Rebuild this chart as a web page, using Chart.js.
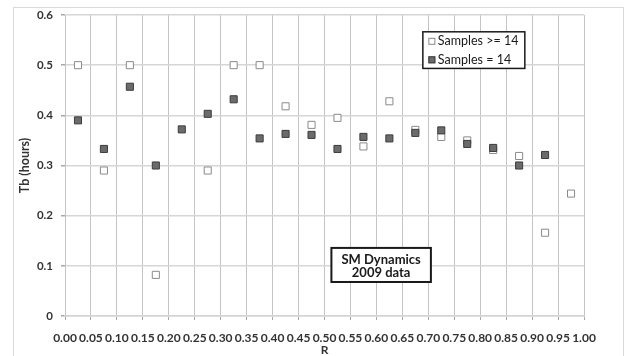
<!DOCTYPE html>
<html>
<head>
<meta charset="utf-8">
<script src="https://cdn.jsdelivr.net/npm/chart.js@4"></script>
<style>
  html, body { margin: 0; padding: 0; background: #ffffff; overflow: hidden; }
  #wrap { position: relative; width: 629px; height: 356px; }
  #frame { position: absolute; left: 13px; top: 7px; width: 611px; height: 400px;
           border: 1px solid #d9d9d9; box-sizing: border-box; }
  #c { position: absolute; left: 0; top: 0; }
</style>
</head>
<body>
<div id="wrap">
  <div id="frame"></div>
  <canvas id="c" width="629" height="356"></canvas>
</div>
<script>
// R bins (bin centres) and the measured Tb values in hours for each group
const rBins = [0.025, 0.075, 0.125, 0.175, 0.225, 0.275, 0.325, 0.375, 0.425, 0.475,
               0.525, 0.575, 0.625, 0.675, 0.725, 0.775, 0.825, 0.875, 0.925, 0.975];
const samplesAtLeast14 = [0.500, 0.290, 0.500, 0.082, null, 0.290, 0.500, 0.500, 0.418, 0.381,
                          0.395, 0.338, 0.428, 0.371, 0.357, 0.350, 0.331, 0.319, 0.166, 0.244];
const samplesEqual14 = [0.390, 0.333, 0.457, 0.300, 0.372, 0.403, 0.432, 0.354, 0.363, 0.361,
                        0.333, 0.357, 0.354, 0.365, 0.370, 0.343, 0.335, 0.300, 0.321, null];

const seriesLabels = ['Samples >= 14', 'Samples = 14'];
const xTickValues = [0, 0.05, 0.1, 0.15, 0.2, 0.25, 0.3, 0.35, 0.4, 0.45, 0.5,
                     0.55, 0.6, 0.65, 0.7, 0.75, 0.8, 0.85, 0.9, 0.95, 1];
const xTickLabels = ['0.00', '0.05', '0.10', '0.15', '0.20', '0.25', '0.30', '0.35', '0.40', '0.45', '0.50',
                     '0.55', '0.60', '0.65', '0.70', '0.75', '0.80', '0.85', '0.90', '0.95', '1.00'];
const yTickValues = [0, 0.1, 0.2, 0.3, 0.4, 0.5, 0.6];
const yTickLabels = ['0', '0.1', '0.2', '0.3', '0.4', '0.5', '0.6'];
const noteLines = ['SM Dynamics', '2009 data'];

const FONT = 'Lato, "Open Sans", "Liberation Sans", sans-serif';
const OPEN_STYLE = { fill: '#ffffff', stroke: '#8a8a8a' };
const SOLID_STYLE = { fill: '#6b6b6b', stroke: '#3c3c3c' };

function toPoints(values) {
  return rBins.map((r, i) => ({ x: r, y: values[i] })).filter(p => p.y !== null);
}

// In-plot legend box and the dataset note, anchored in axis units
const overlayPlugin = {
  id: 'overlay',
  afterDatasetsDraw(chart) {
    const { ctx, scales: { x, y } } = chart;
    ctx.save();

    // legend
    const lx0 = x.getPixelForValue(0.6895), lx1 = x.getPixelForValue(0.8860);
    const ly0 = y.getPixelForValue(0.5665), ly1 = y.getPixelForValue(0.4935);
    ctx.fillStyle = '#ffffff';
    ctx.fillRect(lx0, ly0, lx1 - lx0, ly1 - ly0);
    ctx.strokeStyle = '#1a1a1a';
    ctx.lineWidth = 1.5;
    ctx.strokeRect(lx0, ly0, lx1 - lx0, ly1 - ly0);
    const styles = [OPEN_STYLE, SOLID_STYLE];
    ctx.font = '12.5px ' + FONT;
    ctx.textBaseline = 'middle';
    ctx.textAlign = 'left';
    seriesLabels.forEach((label, i) => {
      const cy = ly0 + 9.5 + i * 18.5;
      const sx = lx0 + 5.5;
      ctx.fillStyle = styles[i].fill;
      ctx.fillRect(sx, cy - 3.5, 7, 7);
      ctx.strokeStyle = styles[i].stroke;
      ctx.lineWidth = 1;
      ctx.strokeRect(sx + 0.5, cy - 3, 6, 6);
      ctx.fillStyle = '#1a1a1a';
      ctx.fillText(label, sx + 9.5, cy);
    });

    // note
    const nx0 = x.getPixelForValue(0.5133), nx1 = x.getPixelForValue(0.7050);
    const ny0 = y.getPixelForValue(0.1357), ny1 = y.getPixelForValue(0.0678);
    ctx.fillStyle = '#ffffff';
    ctx.fillRect(nx0, ny0, nx1 - nx0, ny1 - ny0);
    ctx.strokeStyle = '#1a1a1a';
    ctx.lineWidth = 2;
    ctx.strokeRect(nx0, ny0, nx1 - nx0, ny1 - ny0);
    ctx.font = 'bold 13px ' + FONT;
    ctx.textAlign = 'center';
    ctx.fillStyle = '#1a1a1a';
    const ncx = (nx0 + nx1) / 2;
    noteLines.forEach((line, i) => ctx.fillText(line, ncx, ny0 + 11.5 + i * 13.5));
    ctx.restore();
  }
};

new Chart(document.getElementById('c'), {
  type: 'scatter',
  data: {
    datasets: [
      {
        label: seriesLabels[0],
        data: toPoints(samplesAtLeast14),
        pointStyle: 'rect',
        pointRadius: 5,
        pointHoverRadius: 5,
        backgroundColor: OPEN_STYLE.fill,
        borderColor: OPEN_STYLE.stroke,
        borderWidth: 1,
        order: 1
      },
      {
        label: seriesLabels[1],
        data: toPoints(samplesEqual14),
        pointStyle: 'rect',
        pointRadius: 5,
        pointHoverRadius: 5,
        backgroundColor: SOLID_STYLE.fill,
        borderColor: SOLID_STYLE.stroke,
        borderWidth: 1,
        order: 0
      }
    ]
  },
  options: {
    responsive: false,
    animation: false,
    devicePixelRatio: 1,
    layout: { padding: { left: 0, top: 15, right: 45, bottom: 0 } },
    plugins: {
      legend: { display: false },
      tooltip: { enabled: false }
    },
    scales: {
      x: {
        type: 'linear',
        min: 0,
        max: 1,
        afterBuildTicks(scale) { scale.ticks = xTickValues.map(v => ({ value: v })); },
        afterFit(scale) { scale.height = 40; },
        grid: { color: '#c4c4c4', lineWidth: 1, tickLength: 4, tickColor: '#a8a8a8', drawTicks: true },
        border: { color: '#d4d4d4', width: 1.5 },
        ticks: {
          padding: 11,
          maxRotation: 0,
          autoSkip: false,
          color: '#333333',
          font: { family: FONT, size: 12, weight: 'bold' },
          callback: (v, i) => xTickLabels[i]
        },
        title: {
          display: true,
          text: 'R',
          color: '#333333',
          padding: { top: 0, bottom: 0 },
          font: { family: FONT, size: 12, weight: 'bold', lineHeight: 1 }
        }
      },
      y: {
        type: 'linear',
        min: 0,
        max: 0.6,
        afterBuildTicks(scale) { scale.ticks = yTickValues.map(v => ({ value: v })); },
        afterFit(scale) { scale.width = 65; },
        grid: { color: '#d6d6d6', lineWidth: 1.5, tickLength: 4, tickColor: '#a8a8a8', drawTicks: true },
        border: { color: '#c4c4c4', width: 1 },
        ticks: {
          padding: 8,
          color: '#333333',
          font: { family: FONT, size: 11.5, weight: 'bold' },
          callback: (v, i) => yTickLabels[i]
        },
        title: {
          display: true,
          text: 'Tb (hours)',
          color: '#333333',
          padding: { top: 19, bottom: 0 },
          font: { family: FONT, size: 12.5, weight: 'bold', lineHeight: 1 }
        }
      }
    }
  },
  plugins: [overlayPlugin]
});
</script>
</body>
</html>
